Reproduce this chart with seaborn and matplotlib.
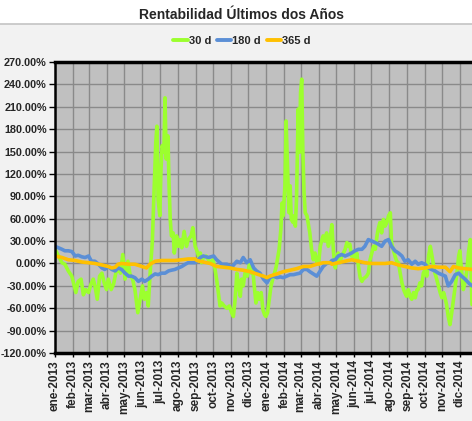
import pandas as pd
import matplotlib.pyplot as plt
import seaborn as sns
from matplotlib.lines import Line2D
from matplotlib.patches import Rectangle
from matplotlib.ticker import FuncFormatter

inicio = pd.Timestamp('2013-01-01')

# 30 d (dias desde ene-2013, rentabilidad %)
dias_30 = [0, 6, 12, 17, 23, 29, 32, 36, 40, 45, 49, 53, 58, 62, 66, 69, 73, 77, 81, 85,
           89, 92, 97, 101, 105, 109, 113, 117, 121, 126, 130, 134, 138, 143, 147, 151, 154, 158, 161, 165,
           168, 171, 174, 176, 178, 181, 183, 185, 188, 190, 192, 195, 197, 199, 201, 204, 206, 210, 213, 216,
           219, 223, 227, 230, 235, 238, 242,
           245, 248, 251, 253, 256, 261, 265, 269, 273, 276, 279, 282, 285, 288, 292, 297, 301, 305, 308, 311,
           314, 317, 320, 322, 325, 328, 332, 336, 339, 341, 344, 347, 350, 353, 356, 359, 362, 364, 367, 370,
           373, 376, 379, 382, 385, 387, 390, 392, 394, 397, 399, 401, 404, 406, 408, 411, 413, 415, 417, 420,
           422, 424, 426, 428, 430, 432, 435, 438, 440, 443, 446, 449, 452, 455, 458, 461, 463, 466,
           469, 472, 475, 478, 481, 484, 486, 489, 492, 495, 498, 501, 504, 507, 509, 512, 515, 518, 521, 524,
           527, 530, 532, 535, 538, 541, 544, 547, 550, 553, 556, 558, 561, 564, 567, 570, 573, 576, 579, 581,
           584, 587, 590, 593, 596, 599, 602, 604, 607, 610, 613, 616, 619, 622, 625, 627, 630, 633, 636, 639,
           642, 645, 648, 650, 653, 656, 659, 662, 665, 668, 671, 674, 676, 679, 682, 685, 688, 691, 694, 697,
           699, 702, 705, 708, 711, 714, 717, 720]
rent_30 = [19, 10, 1, -1, -10, -17, -26, -39, -24, -21, -42, -35, -39, -28, -21, -30, -48, -17, -13, -26,
           -35, -21, -35, -28, -13, -4, -13, 12, -21, 3, -17, -21, -35, -66, -48, -30, -48, -39, -57, -4,
           28, 95, 162, 184, 86, 64, 126, 158, 149, 222, 140, 171, 104, 59, 37, 41, 14, 37, 23, 32,
           21, 43, 23, 32, 37, 48, 23,
           17, 10, 14, 1, 8, 10, 5, 1, 5, -6, -21, -39, -57, -53, -57, -60, -57, -66, -71, -48,
           -13, -30, -44, -21, -30, -13, -17, 1, -13, -4, -30, -53, -39, -48, -39, -62, -69, -71, -66, -48,
           -30, -21, -13, -4, 10, 19, 46, 81, 64, 104, 191, 140, 68, 104, 59, 55, 64, 50, 86, 207,
           149, 229, 247, 149, 95, 68, 64, 50, 41, 19, 5, 14, 1, -1, 23, 32, 37, 30,
           41, 23, 32, 52, 14, -6, 5, 14, 1, 10, 14, 19, 28, 23, 26, 10, 12, 5, 14, -4,
           -19, -24, -21, -19, -17, -13, 5, 14, 23, 19, 37, 46, 55, 41, 59, 50, 55, 64, 68, 28,
           19, 10, 3, 1, -13, -26, -35, -39, -44, -35, -44, -48, -39, -46, -35, -35, -26, -30, -13, -8,
           -17, 10, 23, 14, 1, -13, -21, -30, -39, -46, -39, -48, -55, -71, -82, -66, -48, -30, -13, 10,
           17, -10, -35, -25, -10, 15, 32, -55]

# 180 d
dias_180 = [0, 6, 12, 17, 23, 29, 35, 40, 46, 52, 58, 63, 69, 75, 81, 86, 92, 98, 104, 109,
            115, 121, 127, 132, 138, 144, 150, 155, 161, 167, 173, 178, 184, 190, 196, 201, 207, 213, 219, 225,
            230, 236, 242,
            251, 256, 265, 274, 279, 288, 297, 305, 314, 320, 325, 331, 337, 343, 348, 354, 360, 366,
            371, 377, 383, 389, 394, 400, 406, 412, 417, 423, 429, 435, 440, 446, 452, 458, 463, 469, 475,
            478, 484, 489, 495, 501, 507, 512, 518, 524, 530, 535, 541, 547, 553, 558, 564, 570, 576, 581, 587,
            593, 599, 604, 610, 616, 622, 627, 633, 639, 645, 650, 656, 662, 668, 674, 679, 685, 691, 697, 702,
            708, 714, 720]
rent_180 = [23, 21, 19, 17, 17, 16, 10, 11, 9, 8, 10, 3, 3, -1, -6, -8, -4, -8, -10, -6,
            -8, -13, -17, -17, -19, -24, -21, -24, -21, -17, -14, -15, -13, -13, -10, -9, -8, -6, -4, -1,
            1, 1, 1,
            8, 10, 8, 10, 5, -1, -1, -5, 3, 1, 8, 1, 5, -6, -10, -13, -21, -26,
            -19, -17, -19, -18, -19, -17, -15, -15, -14, -13, -8, -8, -11, -14, -17, -10, -4, 0, 1,
            4, 5, 10, 12, 10, 12, 14, 17, 19, 19, 23, 32, 30, 28, 26, 23, 30, 32, 23, 17,
            14, 10, 3, 5, -1, 3, -1, 1, -1, -6, -8, -10, -13, -15, -17, -30, -24, -15, -13, -17,
            -21, -26, -30]

# 365 d
dias_365 = [0, 12, 23, 35, 46, 58, 69, 81, 92, 98, 104, 109, 115, 127, 138, 150, 158, 164, 173, 184,
            196, 207, 219, 230, 242,
            245, 256, 268, 279, 291, 302, 314, 325, 337, 348, 360, 366, 371, 383, 394, 406, 417, 429, 440, 452,
            463, 475,
            478, 489, 501, 512, 524, 535, 547, 558, 570, 581, 593, 604, 616, 627, 639, 650, 662, 674, 682, 688,
            697, 708, 720]
rent_365 = [10, 8, 5, 4, 2, 1, 0, -2, -4, -6, -5, -1, 0, -1, -1, -4, -6, -1, 3, 4,
            4, 4, 5, 6, 6,
            4, 2, 0, -4, -5, -6, -8, -9, -11, -14, -17, -19, -17, -14, -11, -9, -7, -4, -4, -1,
            1, 1,
            -1, 1, 3, 5, 3, 1, 0, 0, 0, 1, -2, -4, -6, -7, -6, -4, -5, -5, -11, -4,
            -6, -7, -8]

series = ['30 d', '180 d', '365 d']
colores = ['#9cff2e', '#5b8fd6', '#ffc000']
meses = ['ene-2013', 'feb-2013', 'mar-2013', 'abr-2013', 'may-2013', 'jun-2013',
         'jul-2013', 'ago-2013', 'sep-2013', 'oct-2013', 'nov-2013', 'dic-2013',
         'ene-2014', 'feb-2014', 'mar-2014', 'abr-2014', 'may-2014', 'jun-2014',
         'jul-2014', 'ago-2014', 'sep-2014', 'oct-2014', 'nov-2014', 'dic-2014']


def serie(dias, valores, nombre):
    return pd.DataFrame({'fecha': inicio + pd.to_timedelta(dias, unit='D'),
                         'valor': valores, 'serie': nombre})


df = pd.concat([serie(dias_30, rent_30, series[0]),
                serie(dias_180, rent_180, series[1]),
                serie(dias_365, rent_365, series[2])], ignore_index=True)

sns.set_style('white')
plt.rcParams['font.family'] = ['Liberation Sans', 'DejaVu Sans']
plt.rcParams['font.weight'] = 'bold'

fig = plt.figure(figsize=(4.72, 4.21), dpi=100, facecolor='#f2f2f2')
fig.add_artist(Rectangle((0, 1 - 24 / 421), 1, 24 / 421, transform=fig.transFigure,
                         facecolor='white', edgecolor='none', zorder=-5))
fig.add_artist(Line2D([0, 1], [1 - 24 / 421] * 2, transform=fig.transFigure,
                      color='#c4c4c4', linewidth=1.2))

ax = fig.add_axes([0.1165, 0.1615, 0.8835, 0.6912])
ax.set_facecolor('#c0c0c0')
sns.lineplot(data=df, x='fecha', y='valor', hue='serie', hue_order=series,
             palette=colores, linewidth=2.6, estimator=None, legend=False, ax=ax)

ax.set_xlim(inicio, inicio + pd.Timedelta(days=720))
ax.set_ylim(-120, 270)
ax.set_yticks(range(-120, 271, 30))
ax.yaxis.set_major_formatter(FuncFormatter(lambda v, p: f'{v:.2f}%'))
ax.set_xticks(pd.date_range('2013-01-01', '2014-12-01', freq='MS'))
ax.set_xticklabels(meses, rotation=90)
ax.set_xlabel('')
ax.set_ylabel('')

ax.grid(True, color='#8a8a8a', linewidth=1.0)
ax.set_axisbelow(True)
ax.tick_params(axis='y', labelsize=7.8, length=4, width=1, color='black', pad=2, left=True)
ax.tick_params(axis='x', labelsize=8.5, length=3, width=1, color='black', pad=2, bottom=True)
for lbl in ax.get_xticklabels() + ax.get_yticklabels():
    lbl.set_fontweight('bold')

ax.spines['right'].set_visible(False)
ax.spines['top'].set_linewidth(2.5)
ax.spines['bottom'].set_linewidth(2.5)
ax.spines['left'].set_linewidth(1.8)
for s in ['top', 'bottom', 'left']:
    ax.spines[s].set_color('black')

fig.text(242 / 472, 1 - 15 / 421, 'Rentabilidad Últimos dos Años', ha='center', va='center',
         fontsize=10, fontweight='bold')

handles = [Line2D([0], [0], color=c, linewidth=2.8) for c in colores]
fig.legend(handles, series, loc='center', bbox_to_anchor=(242 / 472, 1 - 41 / 421), ncol=3,
           frameon=False, handlelength=1.3, handletextpad=0.1, columnspacing=0.5,
           prop={'size': 8, 'weight': 'bold'})

fig.savefig('out.png', dpi=100, facecolor=fig.get_facecolor())
